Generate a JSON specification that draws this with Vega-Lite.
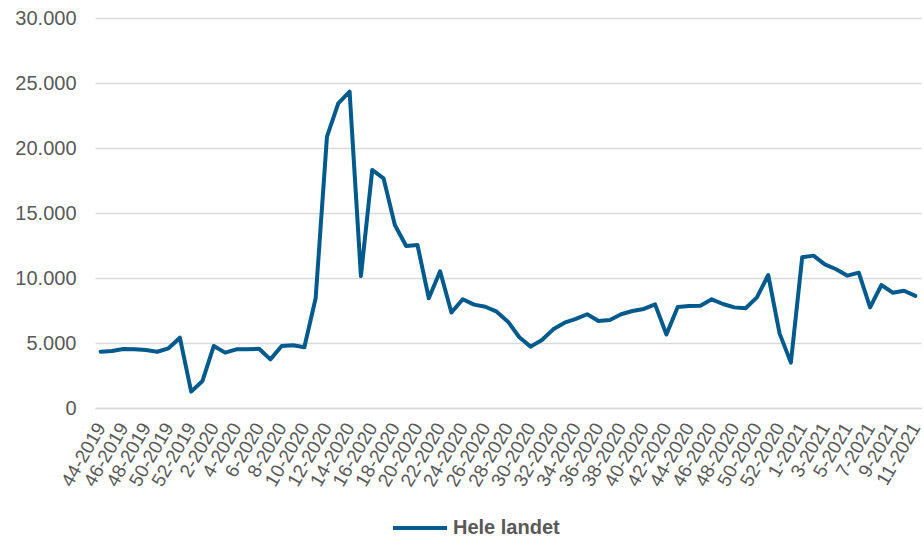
{
  "$schema": "https://vega.github.io/schema/vega-lite/v6.json",
  "autosize": {"type": "none"},
  "width": 826,
  "height": 390,
  "padding": {"left": 95, "top": 18, "right": 3, "bottom": 132},
  "background": "white",
  "config": {
    "view": {"stroke": null},
    "font": "Liberation Sans"
  },
  "data": {
    "values": [
      {"week": "44-2019", "value": 4330, "series": "Hele landet"},
      {"week": "45-2019", "value": 4380, "series": "Hele landet"},
      {"week": "46-2019", "value": 4540, "series": "Hele landet"},
      {"week": "47-2019", "value": 4510, "series": "Hele landet"},
      {"week": "48-2019", "value": 4460, "series": "Hele landet"},
      {"week": "49-2019", "value": 4330, "series": "Hele landet"},
      {"week": "50-2019", "value": 4590, "series": "Hele landet"},
      {"week": "51-2019", "value": 5410, "series": "Hele landet"},
      {"week": "52-2019", "value": 1260, "series": "Hele landet"},
      {"week": "1-2020", "value": 2080, "series": "Hele landet"},
      {"week": "2-2020", "value": 4770, "series": "Hele landet"},
      {"week": "3-2020", "value": 4260, "series": "Hele landet"},
      {"week": "4-2020", "value": 4510, "series": "Hele landet"},
      {"week": "5-2020", "value": 4510, "series": "Hele landet"},
      {"week": "6-2020", "value": 4560, "series": "Hele landet"},
      {"week": "7-2020", "value": 3740, "series": "Hele landet"},
      {"week": "8-2020", "value": 4770, "series": "Hele landet"},
      {"week": "9-2020", "value": 4820, "series": "Hele landet"},
      {"week": "10-2020", "value": 4670, "series": "Hele landet"},
      {"week": "11-2020", "value": 8440, "series": "Hele landet"},
      {"week": "12-2020", "value": 20870, "series": "Hele landet"},
      {"week": "13-2020", "value": 23440, "series": "Hele landet"},
      {"week": "14-2020", "value": 24330, "series": "Hele landet"},
      {"week": "15-2020", "value": 10150, "series": "Hele landet"},
      {"week": "16-2020", "value": 18310, "series": "Hele landet"},
      {"week": "17-2020", "value": 17670, "series": "Hele landet"},
      {"week": "18-2020", "value": 14080, "series": "Hele landet"},
      {"week": "19-2020", "value": 12460, "series": "Hele landet"},
      {"week": "20-2020", "value": 12540, "series": "Hele landet"},
      {"week": "21-2020", "value": 8440, "series": "Hele landet"},
      {"week": "22-2020", "value": 10520, "series": "Hele landet"},
      {"week": "23-2020", "value": 7350, "series": "Hele landet"},
      {"week": "24-2020", "value": 8370, "series": "Hele landet"},
      {"week": "25-2020", "value": 7950, "series": "Hele landet"},
      {"week": "26-2020", "value": 7790, "series": "Hele landet"},
      {"week": "27-2020", "value": 7410, "series": "Hele landet"},
      {"week": "28-2020", "value": 6640, "series": "Hele landet"},
      {"week": "29-2020", "value": 5440, "series": "Hele landet"},
      {"week": "30-2020", "value": 4720, "series": "Hele landet"},
      {"week": "31-2020", "value": 5230, "series": "Hele landet"},
      {"week": "32-2020", "value": 6050, "series": "Hele landet"},
      {"week": "33-2020", "value": 6560, "series": "Hele landet"},
      {"week": "34-2020", "value": 6850, "series": "Hele landet"},
      {"week": "35-2020", "value": 7210, "series": "Hele landet"},
      {"week": "36-2020", "value": 6690, "series": "Hele landet"},
      {"week": "37-2020", "value": 6770, "series": "Hele landet"},
      {"week": "38-2020", "value": 7210, "series": "Hele landet"},
      {"week": "39-2020", "value": 7460, "series": "Hele landet"},
      {"week": "40-2020", "value": 7620, "series": "Hele landet"},
      {"week": "41-2020", "value": 7970, "series": "Hele landet"},
      {"week": "42-2020", "value": 5650, "series": "Hele landet"},
      {"week": "43-2020", "value": 7770, "series": "Hele landet"},
      {"week": "44-2020", "value": 7850, "series": "Hele landet"},
      {"week": "45-2020", "value": 7870, "series": "Hele landet"},
      {"week": "46-2020", "value": 8360, "series": "Hele landet"},
      {"week": "47-2020", "value": 8000, "series": "Hele landet"},
      {"week": "48-2020", "value": 7740, "series": "Hele landet"},
      {"week": "49-2020", "value": 7670, "series": "Hele landet"},
      {"week": "50-2020", "value": 8510, "series": "Hele landet"},
      {"week": "51-2020", "value": 10230, "series": "Hele landet"},
      {"week": "52-2020", "value": 5740, "series": "Hele landet"},
      {"week": "53-2020", "value": 3490, "series": "Hele landet"},
      {"week": "1-2021", "value": 11590, "series": "Hele landet"},
      {"week": "2-2021", "value": 11720, "series": "Hele landet"},
      {"week": "3-2021", "value": 11050, "series": "Hele landet"},
      {"week": "4-2021", "value": 10670, "series": "Hele landet"},
      {"week": "5-2021", "value": 10180, "series": "Hele landet"},
      {"week": "6-2021", "value": 10410, "series": "Hele landet"},
      {"week": "7-2021", "value": 7740, "series": "Hele landet"},
      {"week": "8-2021", "value": 9460, "series": "Hele landet"},
      {"week": "9-2021", "value": 8870, "series": "Hele landet"},
      {"week": "10-2021", "value": 9020, "series": "Hele landet"},
      {"week": "11-2021", "value": 8620, "series": "Hele landet"}
    ]
  },
  "mark": {"type": "line", "strokeWidth": 4, "strokeJoin": "round", "strokeCap": "round"},
  "encoding": {
    "x": {
      "field": "week",
      "type": "ordinal",
      "sort": null,
      "scale": {"type": "point", "padding": 0.5},
      "axis": {
        "title": null,
        "values": ["44-2019","46-2019","48-2019","50-2019","52-2019","2-2020","4-2020","6-2020","8-2020","10-2020","12-2020","14-2020","16-2020","18-2020","20-2020","22-2020","24-2020","26-2020","28-2020","30-2020","32-2020","34-2020","36-2020","38-2020","40-2020","42-2020","44-2020","46-2020","48-2020","50-2020","52-2020","1-2021","3-2021","5-2021","7-2021","9-2021","11-2021"],
        "labelAngle": -60,
        "labelAlign": "right",
        "labelBaseline": "middle",
        "labelFontSize": 19,
        "labelColor": "#595959",
        "labelPadding": 16,
        "labelOverlap": false,
        "labelBound": false,
        "labelFlush": false,
        "ticks": false,
        "tickSize": 0,
        "domainColor": "#d9d9d9",
        "domainWidth": 1.5,
        "grid": false
      }
    },
    "y": {
      "field": "value",
      "type": "quantitative",
      "scale": {"domain": [0, 30000], "nice": false},
      "axis": {
        "title": null,
        "values": [0, 5000, 10000, 15000, 20000, 25000, 30000],
        "labelExpr": "replace(format(datum.value, ','), ',', '.')",
        "labelFontSize": 20,
        "labelColor": "#595959",
        "labelPadding": 19,
        "ticks": false,
        "tickSize": 0,
        "domain": false,
        "grid": true,
        "gridColor": "#d9d9d9",
        "gridWidth": 1.3
      }
    },
    "color": {
      "field": "series",
      "type": "nominal",
      "scale": {"range": ["#005a8c"]},
      "legend": {
        "title": null,
        "orient": "none",
        "legendX": 296,
        "legendY": 481,
        "padding": 0,
        "symbolType": "stroke",
        "symbolSize": 2916,
        "symbolStrokeWidth": 4,
        "labelFontSize": 20,
        "labelFontWeight": "bold",
        "labelColor": "#595959",
        "labelOffset": 4
      }
    }
  }
}
